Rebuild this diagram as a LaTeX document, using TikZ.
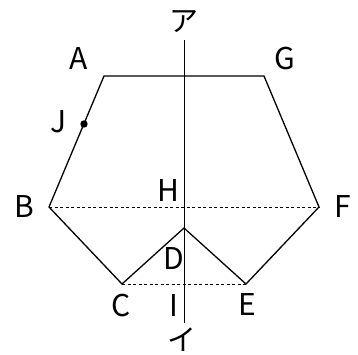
\documentclass[tikz,border=0pt]{standalone}
\usepackage{fontspec}
\setmainfont{Noto Sans CJK JP}
\begin{document}
\begin{tikzpicture}[x=1pt,y=-1pt,
  lbl/.style={font=\fontsize{30}{30}\selectfont, inner sep=0pt},
  kana/.style={font=\fontsize{29}{29}\selectfont, inner sep=0pt},
  edge/.style={line width=1.3pt, line join=miter},
  dline/.style={line width=0.8pt, dash pattern=on 3pt off 2.5pt},
  axis/.style={line width=0.9pt}]
\useasboundingbox (0,0) rectangle (358,354);
\coordinate (A) at (104,76);
\coordinate (G) at (264,76);
\coordinate (B) at (49,207);
\coordinate (F) at (319,207);
\coordinate (C) at (122,284);
\coordinate (E) at (246,284);
\coordinate (D) at (184,228);
\coordinate (H) at (184,207);
\coordinate (I) at (184,284);
\coordinate (top) at (184,40);
\coordinate (bot) at (184,323);
\coordinate (J) at (84,124);
\draw[dline] (B) -- (F);
\draw[dline] (C) -- (E);
\draw[axis] (top) -- (bot);
\draw[edge] (A) -- (G) -- (F) -- (E) -- (D) -- (C) -- (B) -- cycle;
\fill (J) circle (3.7pt);
\node[lbl] (lA) at (78.5,58.5) {A};
\node[lbl] (lG) at (285,59) {G};
\node[lbl] (lJ) at (59,122) {J};
\node[lbl] (lB) at (24,206) {B};
\node[lbl] (lF) at (343,206) {F};
\node[lbl] (lH) at (168,190) {H};
\node[lbl] (lD) at (173.5,258.5) {D};
\node[lbl] (lC) at (121.5,305) {C};
\node[lbl] (lI) at (174,305) {I};
\node[lbl] (lE) at (247.5,304.5) {E};
\node[kana] (la) at (184,22) {ア};
\node[kana] (li) at (182,340) {イ};
\end{tikzpicture}
\end{document}
